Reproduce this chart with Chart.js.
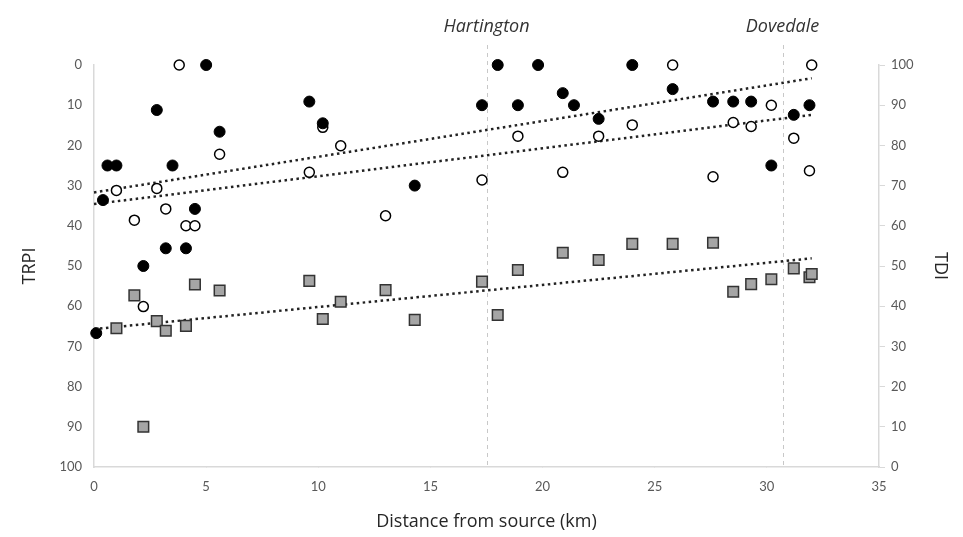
<!DOCTYPE html>
<html>
<head>
<meta charset="utf-8">
<script src="https://cdn.jsdelivr.net/npm/chart.js@4"></script>
<style>
  html, body { margin: 0; padding: 0; background: #fff; }
  #wrap { width: 963px; height: 537px; }
</style>
</head>
<body>
<div id="wrap"><canvas id="chart" width="963" height="537"></canvas></div>
<script>
// TRPI, filled circles (left axis, reversed)
const filledX = [0.1, 0.4, 0.6, 1.0, 2.2, 2.8, 3.2, 3.5, 4.1, 4.5, 5.0, 5.6, 9.6, 10.2, 14.3, 17.3, 18.0, 18.9, 19.8, 20.9, 21.4, 22.5, 24.0, 25.8, 27.6, 28.5, 29.3, 30.2, 31.2, 31.9];
const filledY = [66.7, 33.6, 25, 25, 50, 11.2, 45.6, 25, 45.6, 35.8, 0, 16.6, 9.1, 14.5, 30, 10, 0, 10, 0, 7, 10, 13.4, 0, 6, 9.1, 9.1, 9.1, 25, 12.4, 10];

// TRPI, open circles (left axis, reversed)
const openX = [1.0, 1.8, 2.2, 2.8, 3.2, 3.8, 4.1, 4.5, 5.6, 9.6, 10.2, 11.0, 13.0, 17.3, 18.9, 20.9, 22.5, 24.0, 25.8, 27.6, 28.5, 29.3, 30.2, 31.2, 31.9, 32.0];
const openY = [31.2, 38.6, 60.1, 30.7, 35.8, 0, 40, 40, 22.2, 26.7, 15.5, 20.1, 37.5, 28.6, 17.7, 26.7, 17.7, 14.9, 0, 27.8, 14.3, 15.3, 10, 18.2, 26.3, 0];

// TDI, grey squares (right axis)
const squareX = [1.0, 1.8, 2.2, 2.8, 3.2, 4.1, 4.5, 5.6, 9.6, 10.2, 11.0, 13.0, 14.3, 17.3, 18.0, 18.9, 20.9, 22.5, 24.0, 25.8, 27.6, 28.5, 29.3, 30.2, 31.2, 31.9, 32.0];
const squareY = [34.5, 42.7, 10.0, 36.3, 33.9, 35.1, 45.4, 43.9, 46.3, 36.8, 41.1, 44.0, 36.6, 46.1, 37.8, 49.0, 53.3, 51.5, 55.5, 55.5, 55.8, 43.6, 45.5, 46.7, 49.4, 47.2, 48.0];

// linear trend lines (end points)
const trendX = [0, 32];
const trendFilled = [31.7, 3.3];
const trendOpen = [34.6, 12.4];
const trendSquare = [34.3, 51.9];

// sites marked along the river
const siteNames = ["Hartington", "Dovedale"];
const siteKm = [17.5, 30.7];

const FONT = "Lato, 'Open Sans', sans-serif";
const TITLE_FONT = "'Open Sans', Lato, sans-serif";
const pts = (xs, ys) => xs.map((x, i) => ({ x: x, y: ys[i] }));

const sitesPlugin = {
    id: "sites",
    beforeDatasetsDraw(chart) {
        const { ctx, scales, chartArea } = chart;
        ctx.save();
        ctx.strokeStyle = "#c8c8c8";
        ctx.lineWidth = 1;
        ctx.setLineDash([4, 4]);
        siteKm.forEach((km) => {
            const px = Math.round(scales.x.getPixelForValue(km)) + 0.5;
            ctx.beginPath();
            ctx.moveTo(px, 45);
            ctx.lineTo(px, chartArea.bottom);
            ctx.stroke();
        });
        ctx.restore();
    },
    afterDraw(chart) {
        const { ctx, scales } = chart;
        ctx.save();
        ctx.fillStyle = "#333";
        ctx.font = "italic 18px " + TITLE_FONT;
        ctx.textAlign = "center";
        ctx.textBaseline = "middle";
        siteKm.forEach((km, i) => {
            ctx.fillText(siteNames[i], scales.x.getPixelForValue(km), 27);
        });
        ctx.restore();
    },
};

const tickFont = { family: FONT, size: 13 };
const titleFont = { family: TITLE_FONT, size: 18 };

new Chart(document.getElementById("chart").getContext("2d"), {
    type: "scatter",
    data: {
        datasets: [
            {
                label: "TRPI filled",
                data: pts(filledX, filledY),
                yAxisID: "y",
                pointStyle: "circle",
                pointRadius: 5.5,
                backgroundColor: "#000",
                borderColor: "#000",
                borderWidth: 1,
            },
            {
                label: "TRPI open",
                data: pts(openX, openY),
                yAxisID: "y",
                pointStyle: "circle",
                pointRadius: 5,
                backgroundColor: "#fff",
                borderColor: "#000",
                borderWidth: 1.5,
            },
            {
                label: "TDI",
                data: pts(squareX, squareY),
                yAxisID: "y2",
                pointStyle: "rect",
                pointRadius: 7.5,
                backgroundColor: "#a5a5a5",
                borderColor: "#333",
                borderWidth: 1.5,
            },
            {
                type: "line",
                data: pts(trendX, trendFilled),
                yAxisID: "y",
                borderColor: "#222",
                borderWidth: 2.5,
                borderDash: [2.5, 3.5],
                pointRadius: 0,
                fill: false,
            },
            {
                type: "line",
                data: pts(trendX, trendOpen),
                yAxisID: "y",
                borderColor: "#222",
                borderWidth: 2.5,
                borderDash: [2.5, 3.5],
                pointRadius: 0,
                fill: false,
            },
            {
                type: "line",
                data: pts(trendX, trendSquare),
                yAxisID: "y2",
                borderColor: "#222",
                borderWidth: 2.5,
                borderDash: [2.5, 3.5],
                pointRadius: 0,
                fill: false,
            },
        ],
    },
    options: {
        responsive: false,
        animation: false,
        clip: false,
        layout: { padding: { top: 65, left: 0, right: 0, bottom: 0 } },
        plugins: {
            legend: { display: false },
            tooltip: { enabled: false },
        },
        scales: {
            x: {
                type: "linear",
                min: 0,
                max: 35,
                ticks: { stepSize: 5, color: "#595959", font: tickFont, padding: 12 },
                grid: { drawOnChartArea: false, color: "#d9d9d9", tickLength: 0 },
                border: { color: "#d9d9d9", width: 1.5 },
                title: {
                    display: true,
                    text: "Distance from source (km)",
                    color: "#262626",
                    font: titleFont,
                    padding: { top: 0, bottom: 4 },
                },
                afterFit(scale) { scale.height = 70; },
            },
            y: {
                position: "left",
                reverse: true,
                min: 0,
                max: 100,
                ticks: { stepSize: 10, color: "#595959", font: tickFont, padding: 12 },
                grid: { drawOnChartArea: false, color: "#d9d9d9", tickLength: 0 },
                border: { color: "#d9d9d9", width: 1.5 },
                title: {
                    display: true,
                    text: "TRPI",
                    color: "#262626",
                    font: titleFont,
                    padding: { top: 19, bottom: 0 },
                },
                afterFit(scale) { scale.width = 94; },
            },
            y2: {
                position: "right",
                min: 0,
                max: 100,
                ticks: { stepSize: 10, color: "#595959", font: tickFont, padding: 6 },
                grid: { drawOnChartArea: false, color: "#d9d9d9", tickLength: 6 },
                border: { color: "#d9d9d9", width: 1.5 },
                title: {
                    display: true,
                    text: "TDI",
                    color: "#262626",
                    font: titleFont,
                    padding: { top: 12, bottom: 0 },
                },
                afterFit(scale) { scale.width = 84; },
            },
        },
    },
    plugins: [sitesPlugin],
});
</script>
</body>
</html>
